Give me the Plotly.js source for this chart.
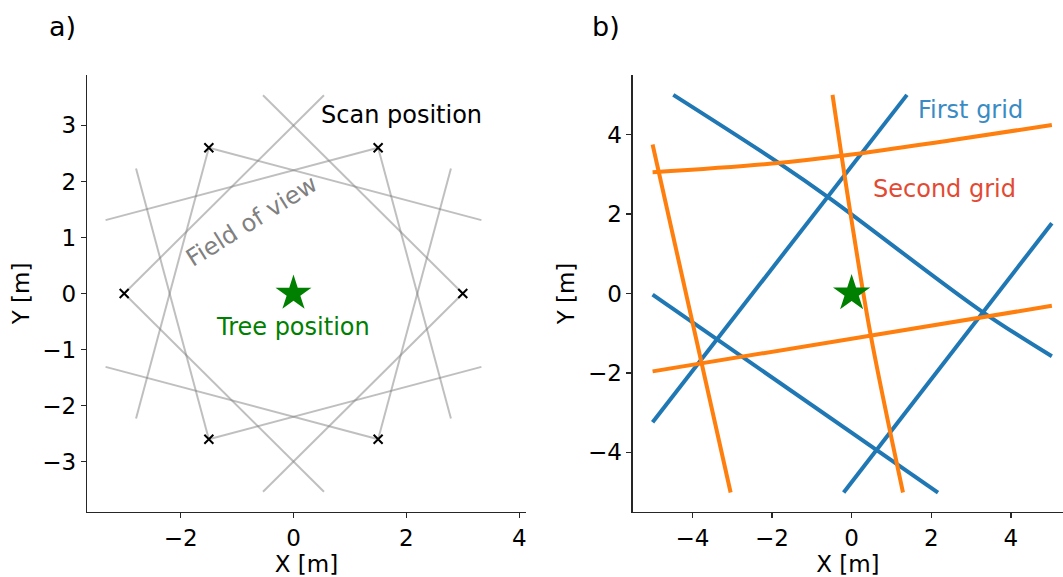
<!DOCTYPE html>
<html>
<head>
<meta charset="utf-8">
<script src="https://cdn.plot.ly/plotly-3.0.1.min.js"></script>
<style>html,body{margin:0;padding:0;background:#fff;}#chart{width:1063px;height:577px;}</style>
</head>
<body>
<div id="chart"></div>
<script>
// ---- Panel a) data ----
const scanX = [3.0, 1.5, -1.5, -3.0, -1.5, 1.5];
const scanY = [0.0, 2.6, 2.6, 0.0, -2.6, -2.6];
const fovStartX = [3.0, 3.0, 1.5, 1.5, -1.5, -1.5, -3.0, -3.0, -1.5, -1.5, 1.5, 1.5];
const fovStartY = [0.0, 0.0, 2.6, 2.6, 2.6, 2.6, 0.0, 0.0, -2.6, -2.6, -2.6, -2.6];
const fovEndX = [-0.54, -0.54, -3.33, 2.79, -2.79, 3.33, 0.54, 0.54, 3.33, -2.79, 2.79, -3.33];
const fovEndY = [3.54, -3.54, 1.31, -2.23, -2.23, 1.31, 3.54, -3.54, -1.31, 2.23, 2.23, -1.31];
const treeX = [0];
const treeY = [0];

// ---- Panel b) data ----
const firstGridX = [
  [-4.48, -1.88, -0.54, 3.24, 5.03],
  [-5.0, 1.39],
  [-0.2, 5.03],
  [-5.0, 2.17]
];
const firstGridY = [
  [5.0, 3.32, 2.39, -0.43, -1.58],
  [-3.24, 5.0],
  [-5.01, 1.77],
  [-0.03, -5.01]
];
const secondGridX = [
  [-5.0, -2.0, 0.0, 2.5, 5.03],
  [-5.0, 5.03],
  [-5.0, -3.04],
  [-0.48, -0.03, 0.47, 1.29]
];
const secondGridY = [
  [3.05, 3.27, 3.5, 3.86, 4.24],
  [-1.96, -0.31],
  [3.75, -5.01],
  [5.0, 2.02, -1.0, -5.01]
];

const FONT = 'DejaVu Sans';
const traces = [];

// FOV lines
const fx = [], fy = [];
for (let i = 0; i < fovStartX.length; i++) {
  fx.push(fovStartX[i], fovEndX[i], null);
  fy.push(fovStartY[i], fovEndY[i], null);
}
traces.push({x: fx, y: fy, mode: 'lines', xaxis: 'x', yaxis: 'y',
  line: {color: 'rgba(128,128,128,0.5)', width: 2}, hoverinfo: 'skip'});
traces.push({x: scanX, y: scanY, mode: 'markers', xaxis: 'x', yaxis: 'y',
  marker: {symbol: 'x-thin', size: 9, color: '#000', line: {color: '#000', width: 2}}});
traces.push({x: treeX, y: treeY, mode: 'markers', xaxis: 'x', yaxis: 'y',
  marker: {symbol: 'star', size: 27, color: 'green', line: {width: 0}}});

for (let i = 0; i < firstGridX.length; i++) {
  traces.push({x: firstGridX[i], y: firstGridY[i], mode: 'lines', xaxis: 'x2', yaxis: 'y2',
    line: {color: '#1f77b4', width: 4, shape: 'spline', smoothing: 1}});
}
for (let i = 0; i < secondGridX.length; i++) {
  traces.push({x: secondGridX[i], y: secondGridY[i], mode: 'lines', xaxis: 'x2', yaxis: 'y2',
    line: {color: '#ff7f0e', width: 4, shape: 'spline', smoothing: 1}});
}
traces.push({x: treeX, y: treeY, mode: 'markers', xaxis: 'x2', yaxis: 'y2',
  marker: {symbol: 'star', size: 28, color: 'green', line: {width: 0}}});

const axBase = {
  showgrid: false, zeroline: false, showline: true, linecolor: '#262626', linewidth: 1.3,
  ticks: 'outside', ticklen: 5, tickwidth: 1.3, tickcolor: '#262626',
  tickfont: {family: FONT, size: 23, color: '#000'}, mirror: false
};
const titleFont = {family: FONT, size: 23, color: '#000'};

const layout = {
  width: 1063, height: 577,
  margin: {l: 0, r: 0, t: 75, b: 65},
  paper_bgcolor: '#fff', plot_bgcolor: '#fff',
  showlegend: false,
  font: {family: FONT, color: '#000'},
  xaxis: Object.assign({}, axBase, {domain: [0.0818, 0.4948], range: [-3.66, 4.12], tickvals: [-2, 0, 2, 4],
    anchor: 'y', title: {text: 'X [m]', font: titleFont, standoff: 2}}),
  yaxis: Object.assign({}, axBase, {domain: [0, 1], range: [-3.9, 3.9], tickvals: [-3, -2, -1, 0, 1, 2, 3],
    anchor: 'x', title: {text: 'Y [m]', font: titleFont, standoff: 6}}),
  xaxis2: Object.assign({}, axBase, {domain: [0.5952, 1.0], range: [-5.5, 5.31], tickvals: [-4, -2, 0, 2, 4],
    anchor: 'y2', title: {text: 'X [m]', font: titleFont, standoff: 2}}),
  yaxis2: Object.assign({}, axBase, {domain: [0, 1], range: [-5.5, 5.5], tickvals: [-4, -2, 0, 2, 4],
    anchor: 'x2', title: {text: 'Y [m]', font: titleFont, standoff: 6}}),
  annotations: [
    {text: 'a)', xref: 'paper', yref: 'paper', x: 0.044, y: 1.112, xanchor: 'left', yanchor: 'middle',
      showarrow: false, font: {family: FONT, size: 27, color: '#000'}},
    {text: 'b)', xref: 'paper', yref: 'paper', x: 0.555, y: 1.112, xanchor: 'left', yanchor: 'middle',
      showarrow: false, font: {family: FONT, size: 27, color: '#000'}},
    {text: 'Scan position', xref: 'x', yref: 'y', x: 0.45, y: 3.18, xanchor: 'left', yanchor: 'middle',
      showarrow: false, font: {family: FONT, size: 24, color: '#000'}},
    {text: 'Tree position', xref: 'x', yref: 'y', x: 0.0, y: -0.6, xanchor: 'center', yanchor: 'middle',
      showarrow: false, font: {family: FONT, size: 24, color: 'green'}},
    {text: 'Field of view', xref: 'x', yref: 'y', x: -0.74, y: 1.3, xanchor: 'center', yanchor: 'middle',
      textangle: -32, showarrow: false, font: {family: FONT, size: 24, color: 'gray'}},
    {text: 'First grid', xref: 'x2', yref: 'y2', x: 1.62, y: 4.63, xanchor: 'left', yanchor: 'middle',
      showarrow: false, font: {family: FONT, size: 24, color: '#3a8bc4'}},
    {text: 'Second grid', xref: 'x2', yref: 'y2', x: 0.49, y: 2.62, xanchor: 'left', yanchor: 'middle',
      showarrow: false, font: {family: FONT, size: 24, color: '#e34a33'}}
  ]
};

Plotly.newPlot('chart', traces, layout, {staticPlot: true, displayModeBar: false});
</script>
</body>
</html>
